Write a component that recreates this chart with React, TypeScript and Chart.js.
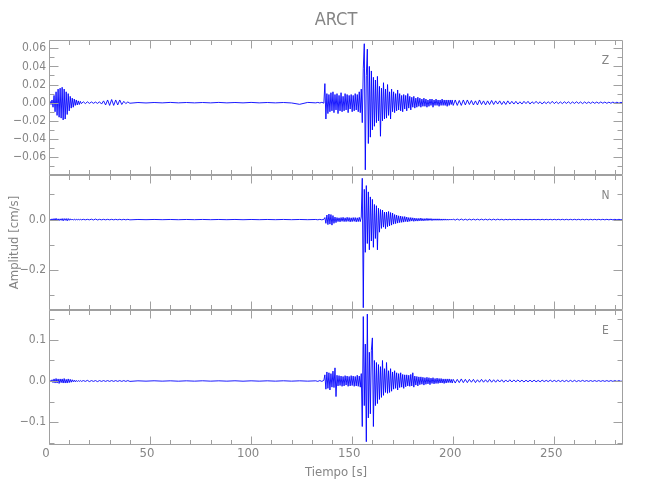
import { useEffect, useRef } from "react";
import { Chart, registerables } from "chart.js";

Chart.register(...registerables);

const TITULO = "ARCT";
const TITULO_X = "Tiempo [s]";
const TITULO_Y = "Amplitud [cm/s]";

// time grid segments: [start, end, step] in seconds
const SEGMENTOS_TIEMPO: number[][] = [
  [0, 16, 0.5],
  [17, 40, 1],
  [44, 132, 4],
  [133, 136, 1],
  [136.5, 200, 0.5],
  [201, 284, 1],
];

// amplitudes in 1e-3 cm/s
const Z_MILI = [
  0, 1.5, -2, 3, -5, 8, -10, 12, -14, 15, -16, 16, -17, 17, -19, 15, -18, 12, -13, 10, -9, 7, -6, 5, -5, 4, -3, 3, -2.5, 2, -2, 1.5, -1,
  1, -1, 1, -0.8, 0.8, -0.7, 0.7, -0.8, 1, -1.5, 2, -2.5, 3, -3, 3.5, -3, 3, -2.5, 3, -2, 1.5, -1, 0.8, -0.6,
  0.2, -0.3, 0.2, -0.2, 0.3, -0.2, 0.2, -0.2, 0.2, -0.2, 0.3, -0.2, 0.2, -0.2, 0.3, -0.2, 0.2, -0.2, 0.2, -0.3, -1.8, 0.3, -0.2,
  0.3, -0.3, 0.4, -0.5,
  21, -18, 10, -12, 9, -10, 11, -9, 12, -11,
  9, -8, 10, -12, 8, -9, 11, -10, 7, -9,
  10, -8, 9, -11, 8, -7, 9, -10, 8, -9,
  10, -8, 9, -10, 12, -11, 15, -22, 38, 65,
  -74, 30, 59, -45, 40, -38, 35, -30, 28, -26,
  25, -22, 29, -20, 18, -37, 16, -20, 22, -18,
  15, -17, 20, -14, 12, -18, 15, -10, 12, -11,
  10, -9, 14, -8, 10, -9, 8, -10, 9, -7,
  8, -9, 10, -6, 7, -8, 6, -5, 7, -6,
  5, -5, 6, -4, 5, -5, 4, -4, 5, -4,
  4, -5, 3, -4, 4, -3, 4, -5, 3, -3,
  4, -3, 3, -4, 3, -3, 4, -3, 3, -3,
  3, -4, 3, -3, 3, -2, 3, -3,
  3, -3, 2.5, -3, 3, -2.5, 3, -2, 2.5, -2.5,
  2, -2.5, 3, -2, 2, -2.5, 2, -2, 2.5, -2,
  2, -1.5, 2, -2, 1.5, -2, 2, -1.5, 1.5, -1.5,
  1.5, -1.5, 1, -1.5, 1.5, -1, 1.5, -1.5, 1, -1,
  1.5, -1, 1, -1.5, 1, -1, 1, -1, 1.5, -1,
  1, -1, 0.8, -1, 1, -0.8, 1, -1, 0.8, -0.8,
  1, -0.8, 0.8, -1, 0.8, -0.8, 0.7, -0.8, 0.8, -0.7,
  0.7, -0.7, 0.8, -0.6, 0.7, -0.7, 0.6, -0.6, 0.7, -0.6,
  0.6, -0.6, 0.5, -0.5,
];

const N_MILI = [
  0, 2, -3, 3, -4, 4, -3, 5, -4, 3, -4, 3, -3, 4, -5, 4, -3, 4, -5, 4, -3, 3, -2, 2, -2, 1.5, -1.5, 1, -1, 1, -1, 1, -1,
  1, -1, 1, -1, 1.5, -1.5, 2, -1.5, 1, -1, 1, -1, 1, -1, 1, -1, 1, -1, 1, -1, 1, -1, 1, -1,
  0.4, -0.4, 0.5, -0.4, 0.4, -0.5, 0.4, -0.4, 0.5, -0.4, 0.4, -0.4, 0.5, -0.5, 0.4, -0.4, 0.4, -0.4, 0.5, -0.4, 0.4, -0.4, 0.4,
  -0.8, 0.8, -1, 1,
  8, -15, 18, -20, 22, -18, 20, -22, 16, -15,
  10, -12, 8, -8, 7, -9, 8, -7, 9, -8,
  7, -8, 9, -7, 8, -9, 7, -8, 8, -7,
  8, -9, 7, -8, 9, -8, 10, 164, -350, 120,
  -130, 135, -95, 110, -120, 90, -85, 80, -110, 60,
  -75, 55, -120, 45, -50, 40, -35, 38, -30, 30,
  -36, 30, -28, 32, -25, 28, -22, 26, -18, 20,
  -16, 18, -14, 15, -12, 14, -11, 12, -10, 12,
  -8, 10, -9, 8, -7, 8, -6, 7, -7, 6,
  -6, 5, -6, 5, -5, 6, -5, 4, -5, 4,
  -4, 5, -4, 4, -3, 4, -4, 3, -3, 3,
  -3, 3, -3, 3, -3, 2.5, -3, 2.5, -2.5, 2.5,
  -2.5, 2, -2.5, 2, -2, 2, -2, 2,
  -2, 2, -2, 2, -2, 1.5, -2, 1.5, -1.5, 1.5,
  -1.5, 1.5, -1.5, 1.5, -1.5, 1.5, -1.5, 1.5, -1.5, 1.5,
  -1.5, 1.5, -1, 1, -1.5, 1, -1, 1, -1, 1,
  -1, 1, -1, 1, -1, 1, -1, 1, -1, 1,
  -1, 1, -1, 1, -1, 1, -1, 1, -1, 1,
  -1, 1, -1, 1, -1, 1, -1, 1, -1, 1,
  -1, 1, -1, 1, -1, 1, -1, 1, -1, 1,
  -1, 1, -1, 1, -1, 1, -1, 1, -1, 1,
  -1, 1, -1, 1,
];

const E_MILI = [
  0, 2, -2, 3, -4, 5, -5, 6, -5, 5, -6, 5, -4, 5, -5, 6, -5, 4, -5, 5, -4, 4, -3, 3, -2, 2, -2, 1.5, -1.5, 1, -1, 1, -1,
  1, -1, 1.5, -1.5, 1, -1, 1, -1.5, 1, -1, 1, -1, 1, -1, 1, -1, 1, -1, 1, -1, 1, -1, 1, -1,
  0.4, -0.4, 0.5, -0.4, 0.4, -0.5, 0.4, -0.4, 0.5, -0.4, 0.4, -0.4, 0.5, -0.5, 0.4, -0.4, 0.4, -0.4, 0.5, -0.4, 0.4, -0.4, 0.4,
  -1, 1, -1, 1.5,
  15, -20, 22, -18, 20, -22, 18, -15, 24, -16,
  32, -38, 14, -12, 13, -11, 12, -13, 11, -12,
  13, -10, 12, -13, 11, -12, 13, -11, 12, -13,
  11, -12, 14, -13, 12, -15, 18, -111, 157, -60,
  90, -148, 163, -90, 70, -80, 75, 105, -111, 50,
  -60, 45, -55, 40, -45, 35, -40, 50, -35, 30,
  -28, 45, -30, 25, -28, 30, -25, 22, -20, 25,
  -18, 20, -22, 18, -16, 20, -15, 16, -18, 15,
  -14, 15, -12, 14, -13, 16, -12, 20, -15, 12,
  -10, 11, -12, 10, -9, 10, -8, 9, -10, 8,
  -8, 9, -7, 8, -9, 7, -6, 8, -7, 6,
  -6, 7, -6, 6, -5, 6, -5, 5, -6, 5,
  -5, 5, -4, 5, -4, 4, -5, 4,
  -5, 4, -4, 5, -4, 4, -4, 4, -3, 4,
  -4, 3, -3, 4, -3, 3, -3, 4, -3, 3,
  -3, 3, -2.5, 3, -3, 2.5, -2.5, 3, -2.5, 2.5,
  -2, 2.5, -2, 2, -2.5, 2, -2, 2, -2, 2,
  -2, 1.5, -2, 2, -1.5, 1.5, -1.5, 2, -1.5, 1.5,
  -1.5, 1.5, -1.5, 1.5, -1.5, 1.5, -1.5, 1.5, -1.5, 1.5,
  -1.5, 1, -1, 1.5, -1, 1, -1, 1, -1, 1,
  -1, 1, -1, 1, -1, 1, -1, 1, -1, 1,
  -1, 1, -1, 1,
];

const MILI_A_CMS = 0.001;

// axis ranges and tick steps
const X_MIN = 0;
const X_MAX = 284;
const X_PASO = 50;
const X_MENOR = 10;

// listed bottom-to-top (Chart.js stacks left axes in reverse of this order)
const PANELES = [
  { id: "yE", letra: "E", valores: E_MILI, min: -0.156, max: 0.173, paso: 0.1, menor: 0.05, dec: 1 },
  { id: "yN", letra: "N", valores: N_MILI, min: -0.359, max: 0.177, paso: 0.2, menor: 0.1, dec: 1 },
  { id: "yZ", letra: "Z", valores: Z_MILI, min: -0.0797, max: 0.0691, paso: 0.02, menor: 0.01, dec: 2 },
];

const FAMILIA = "'Liberation Sans Narrow', 'DejaVu Sans Condensed', 'Roboto Condensed', 'Liberation Sans', sans-serif";
const GRIS_TEXTO = "#858585";
const GRIS_LINEA = "#a0a0a0";

function construirTiempo(): number[] {
  const t: number[] = [];
  for (const [a, b, s] of SEGMENTOS_TIEMPO) {
    const n = Math.round((b - a) / s);
    for (let i = 0; i <= n; i++) t.push(+(a + i * s).toFixed(3));
  }
  return t;
}

function fmt(v: number, dec: number) {
  if (Math.abs(v) < 1e-9) return (0).toFixed(dec);
  const s = Math.abs(v).toFixed(dec);
  return v < 0 ? "\u2212" + s : s;
}

const marcoPlugin = {
  id: "marco",
  afterDraw(chart: any) {
    const ctx = chart.ctx;
    const { left, right } = chart.chartArea;
    const xs = chart.scales.x;
    const L = Math.round(left) + 0.5;
    const R = Math.round(right) - 0.5;
    ctx.save();
    ctx.strokeStyle = GRIS_LINEA;
    ctx.lineWidth = 1;
    for (const p of PANELES) {
      const s = chart.scales[p.id];
      const T = Math.round(s.top) + 0.5;
      const B = Math.round(s.bottom) - 0.5;
      ctx.beginPath();
      ctx.rect(L, T, R - L, B - T);
      for (let v = X_MIN; v <= X_MAX + 1e-6; v += X_MENOR) {
        const px = Math.round(xs.getPixelForValue(v)) + 0.5;
        const len = Math.abs(v % X_PASO) < 1e-6 ? 8 : 4.5;
        ctx.moveTo(px, T);
        ctx.lineTo(px, T + len);
        ctx.moveTo(px, B);
        ctx.lineTo(px, B - len);
      }
      const start = Math.ceil(p.min / p.menor - 1e-6);
      const end = Math.floor(p.max / p.menor + 1e-6);
      for (let k = start; k <= end; k++) {
        const v = k * p.menor;
        const py = Math.round(s.getPixelForValue(v)) + 0.5;
        const r = v / p.paso;
        const mayor = Math.abs(r - Math.round(r)) < 1e-6;
        const len = mayor ? 9 : 5;
        ctx.moveTo(L, py);
        ctx.lineTo(L + len, py);
        ctx.moveTo(R, py);
        ctx.lineTo(R - len, py);
      }
      ctx.stroke();
      ctx.fillStyle = GRIS_TEXTO;
      ctx.font = `12px ${FAMILIA}`;
      ctx.textAlign = "center";
      ctx.textBaseline = "middle";
      ctx.fillText(p.letra, R - 17, s.top + 21);
    }
    ctx.fillStyle = GRIS_TEXTO;
    ctx.font = `18px ${FAMILIA}`;
    ctx.textAlign = "center";
    ctx.textBaseline = "middle";
    ctx.fillText(TITULO, (left + right) / 2, 20);
    ctx.restore();
  },
};

export default function App() {
  const ref = useRef<HTMLCanvasElement | null>(null);

  useEffect(() => {
    const canvas = ref.current;
    if (!canvas) return;
    const tiempo = construirTiempo();

    const scales: any = {
      x: {
        type: "linear",
        position: "bottom",
        min: X_MIN,
        max: X_MAX,
        grid: { display: false, drawTicks: false },
        border: { display: false },
        ticks: {
          stepSize: X_PASO,
          includeBounds: false,
          autoSkip: false,
          maxRotation: 0,
          padding: 1,
          labelOffset: -3,
          color: GRIS_TEXTO,
          font: { family: FAMILIA, size: 13 },
          callback: (v: any) => String(v),
        },
        title: {
          display: true,
          text: TITULO_X,
          color: GRIS_TEXTO,
          font: { family: FAMILIA, size: 13 },
          padding: { top: 0, bottom: 20 },
        },
        afterFit: (s: any) => {
          s.height = 55;
        },
      },
    };

    for (const p of PANELES) {
      scales[p.id] = {
        type: "linear",
        position: "left",
        stack: "traza",
        stackWeight: 1,
        min: p.min,
        max: p.max,
        grid: { display: false, drawTicks: false },
        border: { display: false },
        ticks: {
          stepSize: p.paso,
          includeBounds: false,
          autoSkip: false,
          padding: 3,
          color: GRIS_TEXTO,
          font: { family: FAMILIA, size: 12 },
          callback: (v: any) => fmt(Number(v), p.dec),
        },
        title: {
          display: p.id === "yN",
          text: TITULO_Y,
          color: GRIS_TEXTO,
          font: { family: FAMILIA, size: 13 },
          padding: 7,
        },
        afterFit: (s: any) => {
          s.width = 49;
        },
      };
    }

    const chart = new Chart(canvas, {
      type: "line",
      data: {
        datasets: PANELES.map((p) => ({
          label: p.letra,
          data: tiempo.map((t, i) => ({ x: t, y: (p.valores[i] ?? 0) * MILI_A_CMS })),
          xAxisID: "x",
          yAxisID: p.id,
          borderColor: "#0000ff",
          borderWidth: 0.9,
          pointRadius: 0,
          fill: false,
          tension: 0,
        })),
      },
      options: {
        animation: false,
        responsive: false,
        devicePixelRatio: 1,
        layout: { padding: { top: 40, right: 27, left: 0, bottom: 0 } },
        plugins: {
          legend: { display: false },
          tooltip: { enabled: false },
          title: { display: false },
        },
        scales,
      },
      plugins: [marcoPlugin],
    } as any);

    return () => chart.destroy();
  }, []);

  return (
    <div style={{ position: "absolute", left: 0, top: 0, width: 650, height: 500, background: "#fff" }}>
      <canvas ref={ref} width={650} height={500} />
    </div>
  );
}
